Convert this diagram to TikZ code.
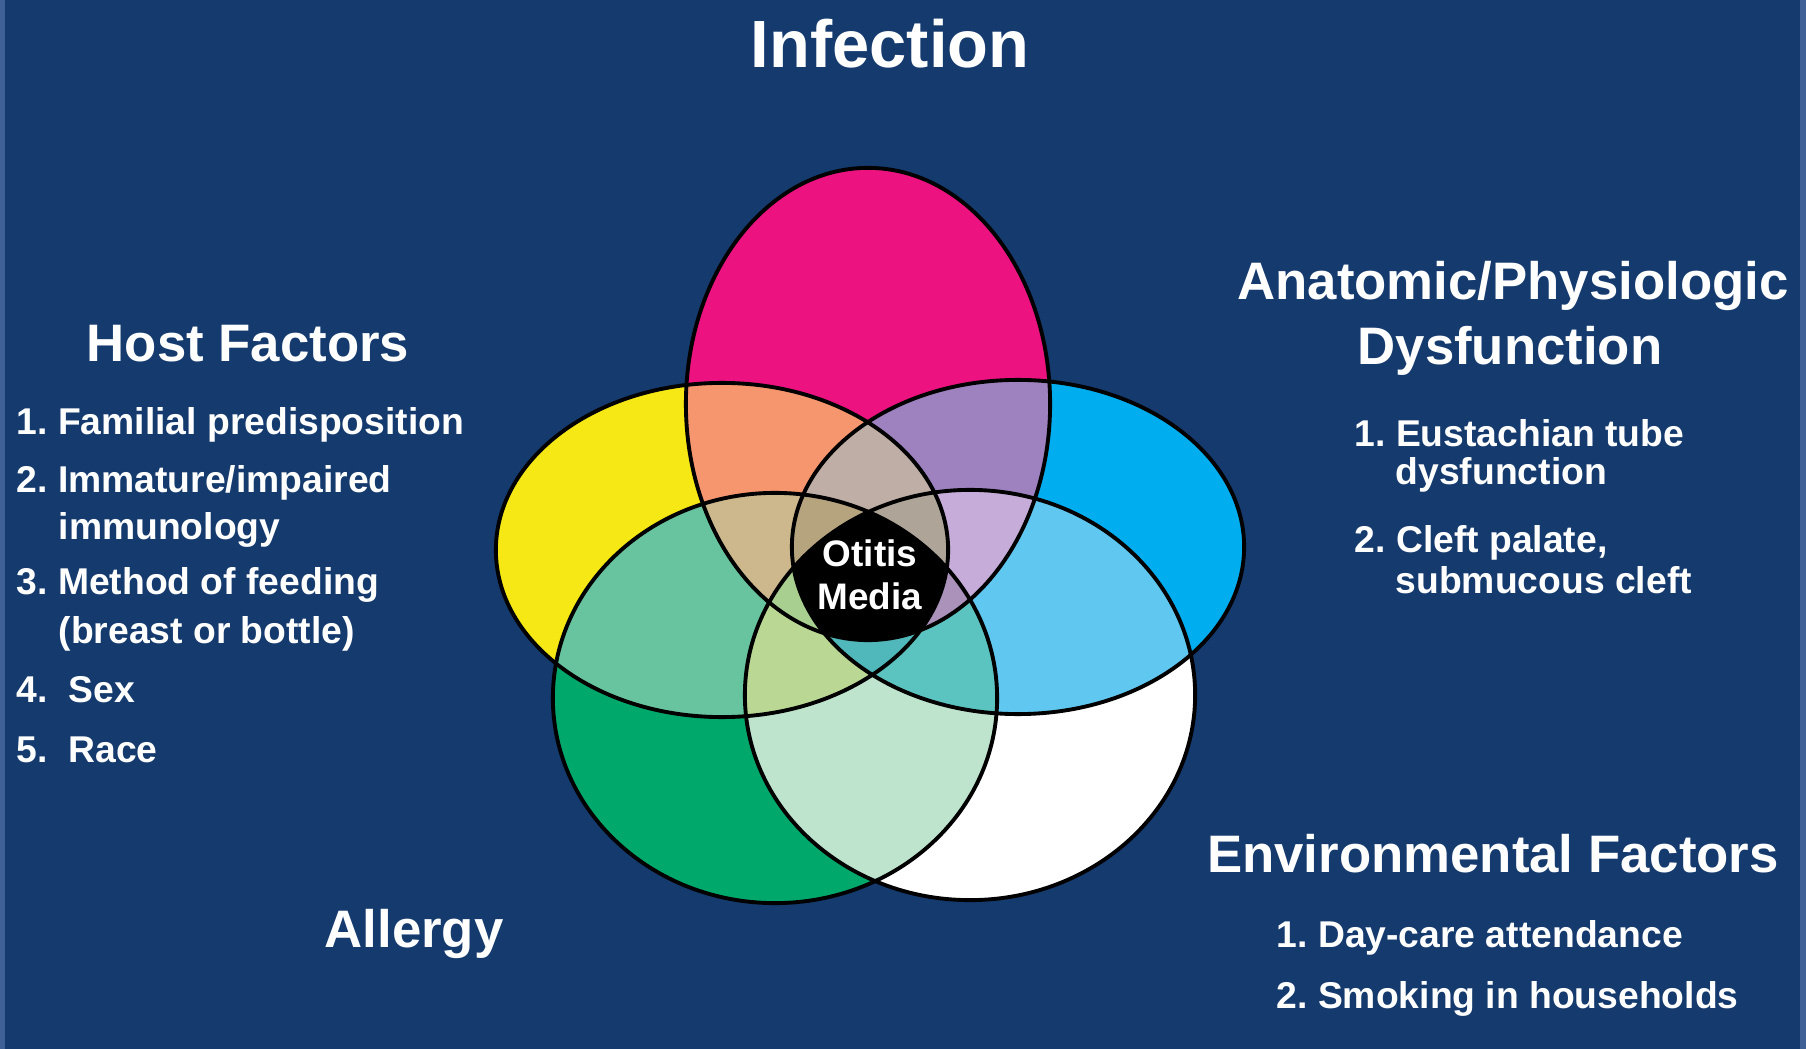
\documentclass[tikz,border=0pt]{standalone}
\usepackage{fontspec}
\setmainfont{Liberation Sans}
\frenchspacing

% colours
\definecolor{bgnavy}{RGB}{20,58,110}
\definecolor{bgedge}{RGB}{62,96,150}
\definecolor{cP}{RGB}{236,18,128}
\definecolor{cY}{RGB}{246,232,20}
\definecolor{cC}{RGB}{0,174,239}
\definecolor{cG}{RGB}{0,168,107}
\definecolor{cW}{RGB}{255,255,255}
\definecolor{cPY}{RGB}{246,150,110}
\definecolor{cPC}{RGB}{158,130,192}
\definecolor{cYG}{RGB}{104,196,158}
\definecolor{cCW}{RGB}{96,200,240}
\definecolor{cGW}{RGB}{190,228,206}
\definecolor{cPYC}{RGB}{190,174,166}
\definecolor{cPYG}{RGB}{204,184,140}
\definecolor{cPCW}{RGB}{198,172,216}
\definecolor{cYGW}{RGB}{186,216,148}
\definecolor{cCGW}{RGB}{92,196,192}
\definecolor{cPYCG}{RGB}{182,164,126}
\definecolor{cPYCW}{RGB}{174,164,152}
\definecolor{cPYGW}{RGB}{168,206,144}
\definecolor{cPCGW}{RGB}{170,146,186}
\definecolor{cYCGW}{RGB}{80,184,186}

% the five sets
\newcommand\ovP{(868,404) ellipse [x radius=1.82cm, y radius=2.36cm]}
\newcommand\ovY{(722,550) ellipse [x radius=2.26cm, y radius=1.67cm]}
\newcommand\ovC{(1018,547) ellipse [x radius=2.26cm, y radius=1.67cm]}
\newcommand\ovG{(775,698) ellipse [x radius=2.22cm, y radius=2.05cm]}
\newcommand\ovW{(970,695) ellipse [x radius=2.25cm, y radius=2.05cm]}

\begin{document}
\begin{tikzpicture}[x=0.01cm, y=-0.01cm,
  outline/.style={draw=black, line width=1.1pt},
  head/.style={text=white, font=\fontsize{15}{18}\selectfont\bfseries, inner sep=0pt, anchor=base},
  item/.style={text=white, font=\fontsize{10.6}{12.7}\selectfont\bfseries, inner sep=0pt, anchor=base west},
]

% background
\fill[bgnavy] (0,0) rectangle (1806,1049);
\fill[bgedge] (0,0) rectangle (5,1049);
\fill[bgedge] (1800,0) rectangle (1806,1049);
\useasboundingbox (0,0) rectangle (1806,1049);

% single sets
\fill[cP] \ovP;
\fill[cY] \ovY;
\fill[cC] \ovC;
\fill[cG] \ovG;
\fill[cW] \ovW;

% two sets
\begin{scope}\clip \ovP; \fill[cPY] \ovY; \end{scope}
\begin{scope}\clip \ovP; \fill[cPC] \ovC; \end{scope}
\begin{scope}\clip \ovY; \fill[cYG] \ovG; \end{scope}
\begin{scope}\clip \ovC; \fill[cCW] \ovW; \end{scope}
\begin{scope}\clip \ovG; \fill[cGW] \ovW; \end{scope}

% three sets
\begin{scope}\clip \ovP; \clip \ovY; \fill[cPYC] \ovC; \end{scope}
\begin{scope}\clip \ovP; \clip \ovY; \fill[cPYG] \ovG; \end{scope}
\begin{scope}\clip \ovP; \clip \ovC; \fill[cPCW] \ovW; \end{scope}
\begin{scope}\clip \ovY; \clip \ovG; \fill[cYGW] \ovW; \end{scope}
\begin{scope}\clip \ovC; \clip \ovG; \fill[cCGW] \ovW; \end{scope}

% four sets
\begin{scope}\clip \ovP; \clip \ovY; \clip \ovC; \fill[cPYCG] \ovG; \end{scope}
\begin{scope}\clip \ovP; \clip \ovY; \clip \ovC; \fill[cPYCW] \ovW; \end{scope}
\begin{scope}\clip \ovP; \clip \ovY; \clip \ovG; \fill[cPYGW] \ovW; \end{scope}
\begin{scope}\clip \ovP; \clip \ovC; \clip \ovG; \fill[cPCGW] \ovW; \end{scope}
\begin{scope}\clip \ovY; \clip \ovC; \clip \ovG; \fill[cYCGW] \ovW; \end{scope}

% all five
\begin{scope}\clip \ovP; \clip \ovY; \clip \ovC; \clip \ovG; \fill[black] \ovW; \end{scope}

% outlines
\draw[outline] \ovP;
\draw[outline] \ovY;
\draw[outline] \ovC;
\draw[outline] \ovG;
\draw[outline] \ovW;

\node[text=white, font=\fontsize{10.5}{12.2}\selectfont\bfseries, align=center] (om) at (870,575) {Otitis\\Media};

% Infection
\node[head, font=\fontsize{19}{23}\selectfont\bfseries] (infection) at (890,68) {Infection};

% Host Factors
\node[head] (host) at (248,362) {Host Factors};
\node[item] (host1) at (16,435) {1. Familial predisposition};
\node[item] (host2) at (16,492) {2. Immature/impaired};
\node[item] (host2b) at (58,539) {immunology};
\node[item] (host3) at (16,594) {3. Method of feeding};
\node[item] (host3b) at (58,643) {(breast or bottle)};
\node[item] (host4) at (16,702) {4.\ \ Sex};
\node[item] (host5) at (16,762) {5.\ \ Race};

% Anatomic/Physiologic Dysfunction
\node[head] (anat) at (1513,300) {Anatomic/Physiologic};
\node[head] (anatb) at (1510,365) {Dysfunction};
\node[item] (anat1) at (1354,447) {1. Eustachian tube};
\node[item] (anat1b) at (1395,485) {dysfunction};
\node[item] (anat2) at (1354,552) {2. Cleft palate,};
\node[item] (anat2b) at (1395,593) {submucous cleft};

% Environmental Factors
\node[head] (env) at (1493,872) {Environmental Factors};
\node[item] (env1) at (1276,947) {1. Day-care attendance};
\node[item] (env2) at (1276,1008) {2. Smoking in households};

% Allergy
\node[head] (allergy) at (414,947) {Allergy};

\end{tikzpicture}
\end{document}
